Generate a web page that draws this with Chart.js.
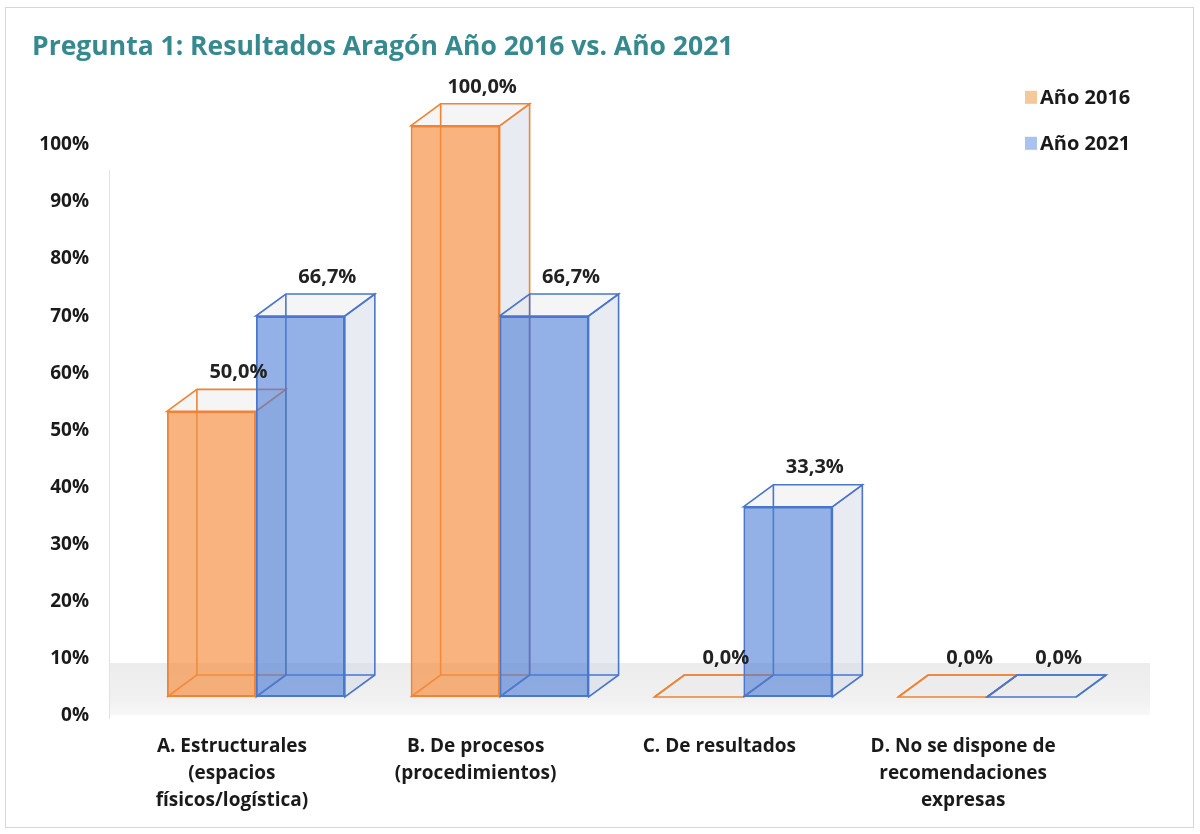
<!DOCTYPE html>
<html lang="es">
<head>
<meta charset="utf-8">
<title>Pregunta 1: Resultados Aragón</title>
<script src="https://cdn.jsdelivr.net/npm/chart.js@4.4.1/dist/chart.umd.min.js"></script>
<style>
  html, body { margin: 0; padding: 0; background: #fff; }
  #wrap { width: 1200px; height: 834px; }
</style>
</head>
<body>
<div id="wrap"><canvas id="chart" width="1200" height="834"></canvas></div>
<script>
  // data
  const categories = [
    ['A. Estructurales', '(espacios', 'físicos/logística)'],
    ['B. De procesos', '(procedimientos)'],
    'C. De resultados',
    ['D. No se dispone de', 'recomendaciones', 'expresas']
  ];
  const seriesNames = ['Año 2016', 'Año 2021'];
  const values2016 = [50.0, 100.0, 0.0, 0.0];
  const values2021 = [66.7, 66.7, 33.3, 0.0];

  const FONT = '"Open Sans", "Noto Sans", sans-serif';
  const DX = 30, DY = -22;   // depth of the fake 3D boxes

  const orange = { line: '#EE8434', fill: 'rgba(244,143,66,0.68)', key: '#F5C89C' };
  const blue = { line: '#4A76CC', fill: 'rgba(75,125,215,0.6)', key: '#AAC3EC' };

  // frame, floor and the back parts of every box
  const depthPlugin = {
    id: 'depth3d',
    beforeDraw(chart) {
      const ctx = chart.ctx;
      ctx.save();
      ctx.fillStyle = '#fff';
      ctx.fillRect(0, 0, chart.width, chart.height);
      ctx.strokeStyle = '#d6d6d6';
      ctx.lineWidth = 1;
      ctx.strokeRect(5.5, 7.5, chart.width - 12, chart.height - 14);
      ctx.restore();
    },
    beforeDatasetsDraw(chart) {
      const ctx = chart.ctx, area = chart.chartArea;
      const zero = chart.scales.y.getPixelForValue(0);
      ctx.save();
      const g = ctx.createLinearGradient(0, zero - 34, 0, zero + 18);
      g.addColorStop(0, '#ececec');
      g.addColorStop(0.7, '#f1f1f1');
      g.addColorStop(1, '#f8f8f8');
      ctx.fillStyle = g;
      ctx.fillRect(area.left - 24, zero - 34, area.right - area.left + 65, 52);
      ctx.strokeStyle = '#e2e2e2';
      ctx.beginPath();
      ctx.moveTo(area.left - 24.5, area.top + 44);
      ctx.lineTo(area.left - 24.5, zero + 22);
      ctx.stroke();

      chart.data.datasets.forEach((ds, di) => {
        const meta = chart.getDatasetMeta(di);
        meta.data.forEach(bar => {
          const p = bar.getProps(['x', 'y', 'base', 'width'], true);
          const x0 = p.x - p.width / 2, x1 = p.x + p.width / 2;
          const top = p.y, base = p.base;
          ctx.lineWidth = 1.6;
          ctx.strokeStyle = ds.borderColor;
          // right side face
          ctx.beginPath();
          ctx.moveTo(x1, top);
          ctx.lineTo(x1 + DX, top + DY);
          ctx.lineTo(x1 + DX, base + DY);
          ctx.lineTo(x1, base);
          ctx.closePath();
          ctx.fillStyle = 'rgba(214,218,230,0.55)';
          ctx.fill();
          ctx.stroke();
          // top face
          ctx.beginPath();
          ctx.moveTo(x0, top);
          ctx.lineTo(x0 + DX, top + DY);
          ctx.lineTo(x1 + DX, top + DY);
          ctx.lineTo(x1, top);
          ctx.closePath();
          ctx.fillStyle = 'rgba(232,232,236,0.45)';
          ctx.fill();
          ctx.stroke();
          // hidden back edges
          ctx.beginPath();
          ctx.moveTo(x0 + DX, top + DY);
          ctx.lineTo(x0 + DX, base + DY);
          ctx.lineTo(x1 + DX, base + DY);
          ctx.moveTo(x0, base);
          ctx.lineTo(x0 + DX, base + DY);
          ctx.stroke();
        });
      });
      ctx.restore();
    },
    afterDatasetsDraw(chart) {
      const ctx = chart.ctx;
      ctx.save();
      ctx.font = 'bold 20px ' + FONT;
      ctx.fillStyle = '#222';
      ctx.textAlign = 'center';
      ctx.textBaseline = 'middle';
      chart.data.datasets.forEach((ds, di) => {
        chart.getDatasetMeta(di).data.forEach((bar, i) => {
          const p = bar.getProps(['x', 'y'], true);
          const txt = ds.data[i].toFixed(1).replace('.', ',') + '%';
          ctx.fillText(txt, p.x + 27, p.y + DY - 17);
        });
      });
      // legend, top right corner
      const area = chart.chartArea;
      ctx.textAlign = 'left';
      ctx.font = 'bold 20px ' + FONT;
      chart.data.datasets.forEach((ds, di) => {
        const ly = area.top - 29 + di * 46;
        const lx = area.right - 84;
        ctx.fillStyle = ds.keyColor;
        ctx.fillRect(lx, ly - 6, 12, 13);
        ctx.fillStyle = '#1a1a1a';
        ctx.fillText(ds.label, lx + 15, ly + 1);
      });
      ctx.restore();
    }
  };

  const ctx = document.getElementById('chart').getContext('2d');
  new Chart(ctx, {
    type: 'bar',
    data: {
      labels: categories,
      datasets: [{
        label: seriesNames[0],
        data: values2016,
        backgroundColor: orange.fill,
        borderColor: orange.line,
        keyColor: orange.key,
        borderWidth: 2,
        borderSkipped: false
      }, {
        label: seriesNames[1],
        data: values2021,
        backgroundColor: blue.fill,
        borderColor: blue.line,
        keyColor: blue.key,
        borderWidth: 2,
        borderSkipped: false
      }]
    },
    options: {
      responsive: false,
      animation: false,
      layout: { padding: { left: 32, right: 91, top: 20, bottom: 20 } },
      datasets: { bar: { barPercentage: 1, categoryPercentage: 0.73 } },
      plugins: {
        legend: { display: false },
        tooltip: { enabled: false },
        title: {
          display: true,
          text: 'Pregunta 1: Resultados Aragón Año 2016 vs. Año 2021',
          align: 'start',
          color: '#35898F',
          font: { family: FONT, size: 26.5, weight: 'bold', lineHeight: 1.2 },
          padding: { top: 12, bottom: 62 }
        }
      },
      scales: {
        x: {
          grid: { display: false, drawTicks: false },
          border: { display: false },
          ticks: {
            color: '#1a1a1a',
            font: { family: FONT, size: 19, weight: 'bold', lineHeight: 1.42 },
            padding: 36,
            labelOffset: -24,
            maxRotation: 0,
            autoSkip: false
          },
          afterFit(scale) { scale.height = 117; }
        },
        y: {
          min: 0,
          max: 100,
          grid: { display: false, drawTicks: false },
          border: { display: false },
          ticks: {
            stepSize: 10,
            color: '#1a1a1a',
            font: { family: FONT, size: 19, weight: 'bold' },
            padding: 45,
            labelOffset: 19,
            callback: v => v + '%'
          },
          afterFit(scale) { scale.width = 102; }
        }
      }
    },
    plugins: [depthPlugin]
  });
</script>
</body>
</html>
